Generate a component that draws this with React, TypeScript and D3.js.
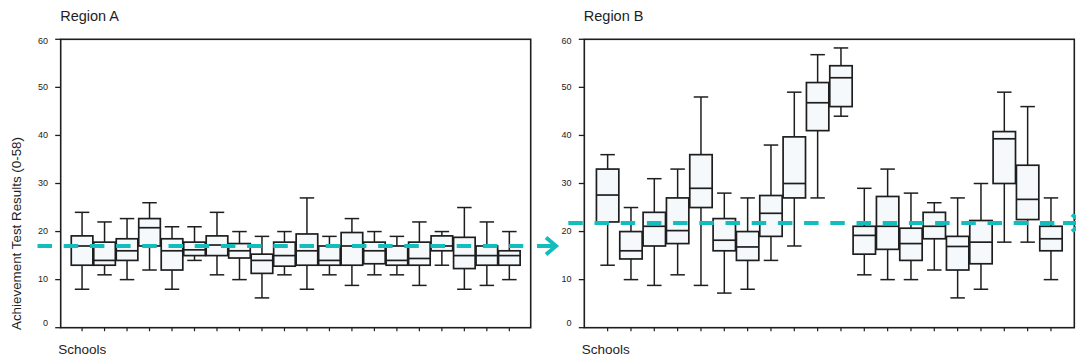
import React from "react";
import * as d3 from "d3";

// ---- Data ----
const schools = d3.range(1, 21).map((i) => `S${i}`);

const regionA_max = [24, 22, 22.7, 26, 21, 21, 24, 20, 19, 20, 27, 19, 22.7, 20, 19, 22, 20, 25, 22, 20];
const regionA_q3 = [19.1, 17.8, 18.5, 22.7, 18.5, 17.8, 19.1, 17.5, 15.3, 17.8, 19.5, 17, 19.8, 17.8, 17, 17.8, 19.1, 18.8, 17, 16];
const regionA_median = [17, 14, 16, 20.8, 16, 16.2, 17.2, 16, 14, 15, 16, 14, 17, 16, 14, 14.4, 17, 15, 15, 15];
const regionA_q1 = [13, 13, 14, 17, 12, 15, 15, 14.5, 11.3, 12.8, 13, 13, 13, 13.3, 13, 13, 16, 12.3, 13, 13];
const regionA_min = [8, 11, 10, 12, 8, 14, 11, 10, 6.2, 11, 8, 11, 8.8, 11, 11, 8.8, 13, 8, 8.8, 10];
const regionA_mean = 17;

const regionB_max = [36, 25, 31, 33, 48, 28, 27, 38, 49, 56.8, 58.2, 29, 33, 28, 26, 27, 30, 49, 46, 27];
const regionB_q3 = [33, 20, 24, 27, 36, 22.7, 20, 27.5, 39.7, 51, 54.5, 21.1, 27.3, 20.7, 24, 19, 22.3, 40.8, 33.8, 21.1];
const regionB_median = [27.6, 16, 21.1, 20.2, 29, 18.2, 16.8, 23.8, 30, 46.8, 52, 19.2, 21.1, 17.5, 21.1, 16.9, 17.8, 39.3, 26.7, 18.5];
const regionB_q1 = [22, 14.3, 17, 17.5, 25, 16, 14, 19, 27, 41, 46, 15.3, 16.3, 14, 18.5, 12, 13.3, 30, 22.5, 16];
const regionB_min = [13, 10, 8.8, 11, 8.8, 7.2, 8, 14, 17, 27, 44, 11, 10, 10, 12, 6.2, 8, 17.8, 17.8, 10];
const regionB_mean = 21.8;

const yTicks = [0, 10, 20, 30, 40, 50, 60];
const yLabel = "Achievement Test Results (0-58)";
const xLabel = "Schools";

// ---- Styles ----
const TEAL = "#14bdbd";
const INK = "#1e1e1e";
const FONT = "'Liberation Sans', Arial, Helvetica, sans-serif";

const TOP = 39.3;
const BOTTOM = 327.7;

type PanelProps = {
  title: string;
  left: number;
  right: number;
  padding: number;
  max: number[];
  q3: number[];
  med: number[];
  q1: number[];
  min: number[];
  mean: number;
  lineStart: number;
  lineEnd: number;
  arrowTip: number;
};

function Panel(p: PanelProps) {
  const y = d3.scaleLinear().domain([0, 60]).range([BOTTOM, TOP]);
  const x = d3.scalePoint<string>().domain(schools).range([p.left, p.right]).padding(p.padding);
  const step = x.step();
  const bw = step * 0.96;
  const cap = 14.5;
  const my = y(p.mean);
  return (
    <g>
      <text x={p.left - 0.5} y={20.7} fontSize={14.5} fill={INK} fontFamily={FONT}>
        {p.title}
      </text>
      {/* frame */}
      <rect x={p.left} y={TOP} width={p.right - p.left} height={BOTTOM - TOP} fill="none" stroke={INK} strokeWidth={1.6} />
      {/* y ticks */}
      {yTicks.map((t) => (
        <g key={t}>
          <line x1={p.left - 5.5} x2={p.left} y1={y(t)} y2={y(t)} stroke={INK} strokeWidth={1.3} />
          <text
            x={p.left - 12.8}
            y={y(t) + (t === 0 ? -5 : t === 60 ? 2 : -0.5)}
            fontSize={9}
            textAnchor="end"
            dominantBaseline="central"
            fill="#222"
            fontFamily={FONT}
          >
            {t}
          </text>
        </g>
      ))}
      {/* x ticks */}
      {schools.map((s) => (
        <line key={s} x1={x(s)!} x2={x(s)!} y1={BOTTOM} y2={BOTTOM + 3.5} stroke={INK} strokeWidth={1.2} />
      ))}
      {/* boxes */}
      {schools.map((s, i) => {
        const cx = x(s)!;
        return (
          <g key={s} stroke={INK} strokeWidth={1.5}>
            <line x1={cx} x2={cx} y1={y(p.max[i])} y2={y(p.q3[i])} />
            <line x1={cx} x2={cx} y1={y(p.q1[i])} y2={y(p.min[i])} />
            <line x1={cx - cap / 2} x2={cx + cap / 2} y1={y(p.max[i])} y2={y(p.max[i])} />
            <line x1={cx - cap / 2} x2={cx + cap / 2} y1={y(p.min[i])} y2={y(p.min[i])} />
            <rect
              x={cx - bw / 2}
              y={y(p.q3[i])}
              width={bw}
              height={y(p.q1[i]) - y(p.q3[i])}
              fill="#f5f9fb"
              strokeWidth={1.7}
            />
            <line x1={cx - bw / 2} x2={cx + bw / 2} y1={y(p.med[i])} y2={y(p.med[i])} strokeWidth={1.7} />
          </g>
        );
      })}
      {/* mean dashed line */}
      <line
        x1={p.lineStart}
        x2={p.lineEnd}
        y1={my}
        y2={my}
        stroke={TEAL}
        strokeWidth={4}
        strokeDasharray="14.5 11.7"
      />
      <path
        d={`M${p.arrowTip - 19},${my} H${p.arrowTip - 1.5} M${p.arrowTip - 10},${my - 8.5} L${p.arrowTip},${my} L${p.arrowTip - 10},${my + 8.5}`}
        fill="none"
        stroke={TEAL}
        strokeWidth={4}
        strokeLinejoin="miter"
      />
      <text x={p.left - 2.5} y={354} fontSize={13.5} fill={INK} fontFamily={FONT}>
        {xLabel}
      </text>
    </g>
  );
}

export default function App() {
  return (
    <svg
      width={1076}
      height={360}
      viewBox="0 0 1076 360"
      style={{ position: "absolute", left: 0, top: 0, background: "#fff" }}
    >
      <rect width={1076} height={360} fill="#fff" />
      <text
        transform={`translate(20.5, 330) rotate(-90)`}
        fontSize={12.5}
        fill={INK}
        fontFamily={FONT}
        textLength={193}
        lengthAdjust="spacingAndGlyphs"
      >
        {yLabel}
      </text>
      <Panel
        title="Region A"
        left={60.7}
        right={530.7}
        padding={0.95}
        max={regionA_max}
        q3={regionA_q3}
        med={regionA_median}
        q1={regionA_q1}
        min={regionA_min}
        mean={regionA_mean}
        lineStart={37.5}
        lineEnd={523.3}
        arrowTip={556}
      />
      <Panel
        title="Region B"
        left={584.3}
        right={1074.3}
        padding={1}
        max={regionB_max}
        q3={regionB_q3}
        med={regionB_median}
        q1={regionB_q1}
        min={regionB_min}
        mean={regionB_mean}
        lineStart={568.3}
        lineEnd={1076}
        arrowTip={1082}
      />
    </svg>
  );
}
